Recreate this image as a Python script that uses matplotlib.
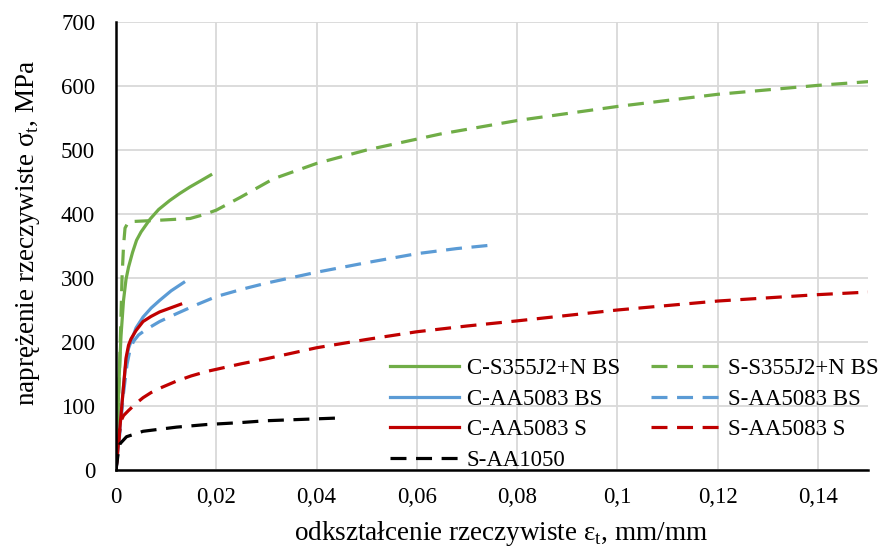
import matplotlib
matplotlib.use("Agg")
import matplotlib.pyplot as plt
from matplotlib.ticker import FuncFormatter, MultipleLocator

plt.rcParams['font.family'] = ['Liberation Serif', 'DejaVu Serif']
plt.rcParams['font.size'] = 16.5

# true strain [mm/mm] and true stress [MPa] for each test series
c_s355_eps = [0, 0.0006, 0.001, 0.0015, 0.002, 0.0025, 0.0033, 0.0041, 0.005, 0.0068,
              0.0085, 0.0107, 0.0127, 0.0147, 0.0167, 0.0189]
c_s355_sig = [0, 140, 210, 265, 298, 317, 340, 359, 372, 392,
              407, 421, 432, 442, 451, 461]

s_s355_eps = [0, 0.0007, 0.0012, 0.0015, 0.0018, 0.0025, 0.008, 0.0148, 0.0175, 0.02,
              0.0248, 0.0314, 0.04, 0.05, 0.06, 0.0647, 0.08, 0.10, 0.12, 0.14, 0.1504]
s_s355_sig = [0, 156, 300, 350, 378, 388, 390, 393, 399, 406,
              426, 455, 479, 500, 517, 525, 546, 568, 587, 601, 607]

c_aa5083bs_eps = [0, 0.0008, 0.0015, 0.002, 0.0025, 0.0031, 0.004, 0.0054, 0.007, 0.0087,
                  0.011, 0.0135]
c_aa5083bs_sig = [0, 68, 131, 170, 190, 203, 222, 239, 253, 265,
                  280, 293]

s_aa5083bs_eps = [0, 0.0008, 0.0015, 0.0022, 0.0028, 0.0035, 0.0045, 0.0061, 0.0087, 0.012,
                  0.016, 0.02, 0.0254, 0.03, 0.04, 0.05, 0.06, 0.068, 0.0757]
s_aa5083bs_sig = [0, 60, 120, 165, 188, 201, 211, 220, 232, 244,
                  258, 271, 283, 292, 309, 324, 338, 346, 352]

c_aa5083s_eps = [0, 0.0008, 0.0015, 0.002, 0.0025, 0.003, 0.004, 0.0054, 0.007, 0.0087,
                 0.0108, 0.0129]
c_aa5083s_sig = [0, 68, 131, 175, 195, 205, 218, 232, 240, 247,
                 253, 259]

s_aa5083s_eps = [0, 0.0009, 0.0015, 0.0025, 0.004, 0.0054, 0.007, 0.0088, 0.0121, 0.015,
                 0.0181, 0.025, 0.0301, 0.04, 0.05, 0.06, 0.07, 0.08, 0.10, 0.12,
                 0.14, 0.15]
s_aa5083s_sig = [0, 75, 85, 93, 104, 113, 121, 128, 139, 147,
                 154, 166, 174, 191, 204, 216, 225, 233, 250, 264,
                 274, 278]

s_aa1050_eps = [0, 0.0005, 0.0008, 0.0021, 0.0054, 0.0121, 0.018, 0.0247, 0.030, 0.0453]
s_aa1050_sig = [0, 30, 41, 52, 60.5, 67, 71, 74, 77, 81.5]

GREEN = '#70AD47'
BLUE = '#5B9BD5'
RED = '#C00000'
BLACK = '#000000'
DASH = (0, (5, 3))
LW = 2.3

fig = plt.figure(figsize=(8.83, 5.46), dpi=100)
ax = fig.add_axes([116 / 883, 1 - 470 / 546, 752 / 883, 448 / 546])

h1, = ax.plot(c_s355_eps, c_s355_sig, color=GREEN, lw=LW, label='C-S355J2+N BS')
h2, = ax.plot(s_s355_eps, s_s355_sig, color=GREEN, lw=LW, ls=DASH, label='S-S355J2+N BS')
h3, = ax.plot(c_aa5083bs_eps, c_aa5083bs_sig, color=BLUE, lw=LW, label='C-AA5083 BS')
h4, = ax.plot(s_aa5083bs_eps, s_aa5083bs_sig, color=BLUE, lw=LW, ls=DASH, label='S-AA5083 BS')
h5, = ax.plot(c_aa5083s_eps, c_aa5083s_sig, color=RED, lw=LW, label='C-AA5083 S')
h6, = ax.plot(s_aa5083s_eps, s_aa5083s_sig, color=RED, lw=LW, ls=DASH, label='S-AA5083 S')
h7, = ax.plot(s_aa1050_eps, s_aa1050_sig, color=BLACK, lw=LW, ls=DASH, label='S-AA1050')

ax.set_xlim(0, 0.15)
ax.set_ylim(0, 700)
ax.xaxis.set_major_locator(MultipleLocator(0.02))
ax.yaxis.set_major_locator(MultipleLocator(100))
ax.xaxis.set_major_formatter(FuncFormatter(lambda v, p: ('%g' % round(v, 4)).replace('.', ',')))
ax.yaxis.set_major_formatter(FuncFormatter(lambda v, p: '%d' % v))
ax.tick_params(length=0)
ax.tick_params(axis='y', pad=15)
ax.tick_params(axis='x', pad=12)

ax.grid(True, color='#D9D9D9', lw=1.3)
ax.set_axisbelow(True)
for s in ('top', 'right'):
    ax.spines[s].set_visible(False)
for s in ('left', 'bottom'):
    ax.spines[s].set_color('black')
    ax.spines[s].set_linewidth(1.8)

ax.set_xlabel('odkształcenie rzeczywiste ε$_\\mathregular{t}$, mm/mm', fontsize=19.5)
ax.set_ylabel('naprężenie rzeczywiste σ$_\\mathregular{t}$, MPa', fontsize=19.5)
ax.xaxis.label.set_va('center')
ax.yaxis.label.set_va('center')
ax.xaxis.set_label_coords((501 - 116) / 752, (470 - 533) / 448)
ax.yaxis.set_label_coords((28 - 116) / 752, (470 - 233) / 448)

handles = [h1, h3, h5, h7, h2, h4, h6]
fig.legend(handles=handles, labels=[h.get_label() for h in handles],
           ncol=2, frameon=False, loc='upper left',
           bbox_to_anchor=(390 / 883, 1 - 358 / 546),
           borderpad=0, borderaxespad=0, handlelength=3.0, handletextpad=0.35,
           labelspacing=0.42, columnspacing=1.37, fontsize=16.5)

fig.savefig('out.png', dpi=100)
